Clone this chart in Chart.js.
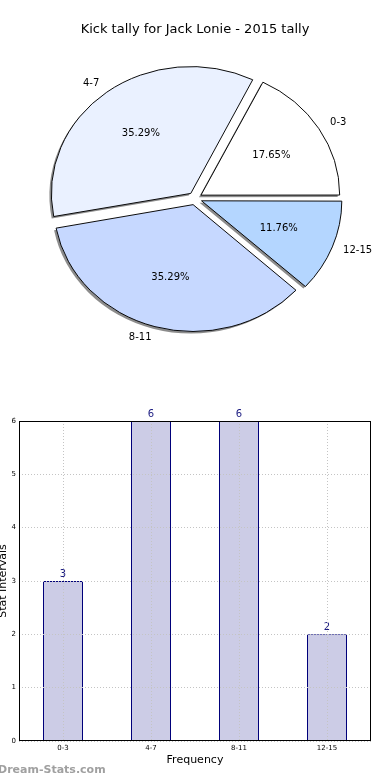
<!DOCTYPE html>
<html>
<head>
<meta charset="utf-8">
<script src="https://cdn.jsdelivr.net/npm/chart.js@4.4.1/dist/chart.umd.min.js"></script>
<style>
  html, body { margin: 0; padding: 0; background: #fff; }
  body { width: 390px; height: 780px; position: relative; overflow: hidden; font-family: "DejaVu Sans", sans-serif; }
  #pieWrap { position: absolute; left: 0; top: 0; width: 390px; height: 370px; }
  #barWrap { position: absolute; left: 0; top: 380px; width: 390px; height: 400px; }
  #watermark { position: absolute; left: -2px; top: 763px; font: bold 11px "DejaVu Sans", sans-serif; color: #a0a0a0; }
</style>
</head>
<body>
<div id="pieWrap"><canvas id="pieChart" width="390" height="370"></canvas></div>
<div id="barWrap"><canvas id="barChart" width="390" height="400"></canvas></div>
<div id="watermark">Dream-Stats.com</div>
<script>
// chart data
const chartTitle = "Kick tally for Jack Lonie - 2015 tally";
const categories = ["0-3", "4-7", "8-11", "12-15"];
const tallies = [3, 6, 6, 2];
const yTicks = [0, 1, 2, 3, 4, 5, 6];

// slice colours, same order as categories
const sliceColours = ["#ffffff", "#eaf1ff", "#c6d8ff", "#b4d6ff"];

const total = tallies.reduce((a, b) => a + b, 0);
// matplotlib goes counter-clockwise from east, chart.js goes clockwise -> reverse
const pieLabels = categories.slice().reverse();
const pieValues = tallies.slice().reverse();
const pieColours = sliceColours.slice().reverse();

const squash = 0.91; // the old pie is a bit flat

function squashAround(ctx, el) {
  ctx.translate(el.x, el.y);
  ctx.scale(1, squash);
  ctx.translate(-el.x, -el.y);
}

// draw shadows first, then squash the real slices
const piePlugin = {
  id: 'piePlugin',
  beforeDatasetsDraw(chart) {
    const ctx = chart.ctx;
    const meta = chart.getDatasetMeta(0);
    ctx.save();
    ctx.translate(-2, 2);
    squashAround(ctx, meta.data[0]);
    meta.data.forEach(el => {
      const o = el.options;
      el.options = Object.assign({}, o, { backgroundColor: 'rgba(0,0,0,0.45)', borderWidth: 0 });
      el.draw(ctx);
      el.options = o;
    });
    ctx.restore();
    ctx.save();
    squashAround(ctx, meta.data[0]);
  },
  afterDatasetsDraw(chart) {
    const ctx = chart.ctx;
    ctx.restore();
    const meta = chart.getDatasetMeta(0);
    ctx.save();
    ctx.fillStyle = '#000';
    ctx.font = '10px "DejaVu Sans"';
    ctx.textBaseline = 'middle';
    meta.data.forEach((el, i) => {
      const mid = (el.startAngle + el.endAngle) / 2;
      const off = (el.options.offset || 0) / 4;
      const r = el.outerRadius;
      const c = Math.cos(mid), s = Math.sin(mid);
      // percentage
      let d = 0.6 * r + off;
      ctx.textAlign = 'center';
      ctx.fillText((pieValues[i] / total * 100).toFixed(2) + '%', el.x + c * d, el.y + s * d * squash);
      // category label
      d = 1.1 * r + off;
      ctx.textAlign = c > 0 ? 'left' : 'right';
      ctx.fillText(pieLabels[i], el.x + c * d, el.y + s * d * squash);
    });
    // title
    ctx.textAlign = 'center';
    ctx.font = '13px "DejaVu Sans"';
    ctx.fillText(chartTitle, chart.width / 2, 30);
    ctx.restore();
  }
};

new Chart(document.getElementById('pieChart'), {
  type: 'pie',
  data: {
    labels: pieLabels,
    datasets: [{
      data: pieValues,
      backgroundColor: pieColours,
      borderColor: '#000',
      borderWidth: 1,
      offset: 28,
      hoverOffset: 28,
      radius: 138
    }]
  },
  options: {
    responsive: false,
    animation: false,
    rotation: 90,
    layout: { padding: { top: 27, left: 0, right: 0, bottom: 0 } },
    plugins: { legend: { display: false }, tooltip: { enabled: false } },
    events: []
  },
  plugins: [piePlugin]
});

// bar chart extras: value labels, frame, axis titles
const barPlugin = {
  id: 'barPlugin',
  afterDatasetsDraw(chart) {
    const ctx = chart.ctx;
    const meta = chart.getDatasetMeta(0);
    ctx.save();
    ctx.fillStyle = '#1a1a80';
    ctx.font = '10px "DejaVu Sans"';
    ctx.textAlign = 'center';
    ctx.textBaseline = 'bottom';
    meta.data.forEach((bar, i) => {
      ctx.fillText(String(tallies[i]), bar.x, bar.y - 2);
    });
    ctx.restore();
  },
  afterDraw(chart) {
    const ctx = chart.ctx;
    const a = chart.chartArea;
    ctx.save();
    ctx.strokeStyle = '#000';
    ctx.lineWidth = 1;
    ctx.strokeRect(Math.round(a.left) + 0.5, Math.round(a.top) + 0.5, Math.round(a.right - a.left) - 1, Math.round(a.bottom - a.top) - 1);
    ctx.fillStyle = '#000';
    ctx.font = '11px "DejaVu Sans"';
    ctx.textAlign = 'center';
    ctx.textBaseline = 'middle';
    ctx.fillText('Frequency', (a.left + a.right) / 2, a.bottom + 19);
    ctx.translate(3, (a.top + a.bottom) / 2);
    ctx.rotate(-Math.PI / 2);
    ctx.fillText('Stat Intervals', 0, 0);
    ctx.restore();
  }
};

new Chart(document.getElementById('barChart'), {
  type: 'bar',
  data: {
    labels: categories,
    datasets: [{
      data: tallies,
      backgroundColor: '#ccccE6',
      borderColor: '#00007a',
      borderWidth: 1,
      barPercentage: 40 / 88,
      categoryPercentage: 1
    }]
  },
  options: {
    responsive: false,
    animation: false,
    layout: { padding: { top: 41, left: 0, right: 19, bottom: 0 } },
    plugins: { legend: { display: false }, tooltip: { enabled: false } },
    events: [],
    scales: {
      x: {
        offset: true,
        grid: { display: true, offset: false, color: '#c4c4c4', drawTicks: false, z: 1 },
        border: { display: false, dash: [1, 2] },
        ticks: { color: '#000', font: { size: 7, family: 'DejaVu Sans' }, padding: 3 },
        afterFit(scale) { scale.height = 39; }
      },
      y: {
        min: yTicks[0],
        max: yTicks[yTicks.length - 1],
        grid: { color: '#c4c4c4', drawTicks: false, z: 1 },
        border: { display: false, dash: [1, 2] },
        ticks: { stepSize: 1, color: '#000', font: { size: 7, family: 'DejaVu Sans' }, padding: 3 },
        afterFit(scale) { scale.width = 19; }
      }
    }
  },
  plugins: [barPlugin]
});
</script>
</body>
</html>
